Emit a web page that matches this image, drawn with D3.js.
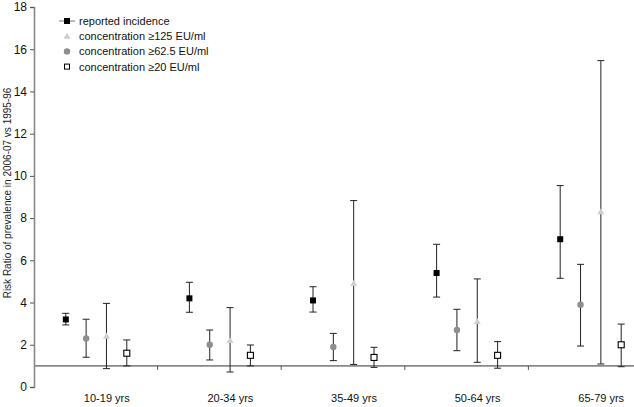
<!DOCTYPE html>
<html lang="en">
  <head>
    <meta charset="UTF-8" />
    <title>Risk ratio by age group</title>
    <script src="https://d3js.org/d3.v7.min.js"></script>
    <style>
      body {
        margin: 0;
        background: white;
      }
      svg {
        display: block;
        font-family: "Liberation Sans", Arial, sans-serif;
      }
      .axis-line {
        stroke: #888;
        stroke-width: 1.6px;
      }
      .err {
        stroke: #222;
        stroke-width: 1px;
      }
    </style>
  </head>
  <body>
    <svg id="chart" width="634" height="407"></svg>
    <script>
      // age groups on the x axis
      const categories = ["10-19 yrs", "20-34 yrs", "35-49 yrs", "50-64 yrs", "65-79 yrs"];
      const yTicks = [0, 2, 4, 6, 8, 10, 12, 14, 16, 18];

      // risk ratios, with lower / upper limits
      const reported = [3.2, 4.2, 4.1, 5.4, 7.0];
      const reportedLo = [2.94, 3.54, 3.55, 4.26, 5.15];
      const reportedHi = [3.49, 4.96, 4.75, 6.76, 9.54];

      const conc62 = [2.3, 2.0, 1.9, 2.7, 3.9];
      const conc62Lo = [1.41, 1.28, 1.25, 1.72, 1.94];
      const conc62Hi = [3.21, 2.7, 2.54, 3.68, 5.81];

      const conc125 = [2.4, 2.2, 4.9, 3.1, 8.3];
      const conc125Lo = [0.87, 0.71, 1.07, 1.17, 1.09];
      const conc125Hi = [3.96, 3.76, 8.83, 5.12, 15.46];

      const conc20 = [1.6, 1.5, 1.4, 1.5, 2.0];
      const conc20Lo = [1.0, 1.0, 0.93, 0.89, 0.96];
      const conc20Hi = [2.23, 1.99, 1.88, 2.15, 2.98];

      const series = [
        { key: "reported", label: "reported incidence", shape: "square", fill: "#000", values: reported, lo: reportedLo, hi: reportedHi },
        { key: "c125", label: "concentration \u2265125 EU/ml", shape: "triangle", fill: "#cfcfcf", values: conc125, lo: conc125Lo, hi: conc125Hi },
        { key: "c62", label: "concentration \u226562.5 EU/ml", shape: "circle", fill: "#8e8e8e", values: conc62, lo: conc62Lo, hi: conc62Hi },
        { key: "c20", label: "concentration \u226520 EU/ml", shape: "open", fill: "#fff", values: conc20, lo: conc20Lo, hi: conc20Hi },
      ];
      // order of the points inside each age group
      const plotOrder = ["reported", "c62", "c125", "c20"];

      const svg = d3.select("#chart");

      const x = d3.scaleBand().domain(categories).range([34, 652]);
      const xInner = d3.scalePoint().domain(plotOrder).range([-30, 31]);
      const y = d3.scaleLinear().domain([0, 18]).range([387, 7]);

      // y axis
      const yAxis = svg
        .append("g")
        .attr("transform", "translate(34,0)")
        .call(d3.axisLeft(y).tickValues(yTicks).tickSize(4).tickPadding(3));
      yAxis.select(".domain").attr("stroke", "#888").attr("stroke-width", 1.6);
      yAxis.selectAll(".tick line").attr("stroke", "#555");
      yAxis.selectAll("text").attr("font-size", 12).attr("fill", "#111").attr("font-family", "Liberation Sans, Arial, sans-serif");

      // horizontal reference line at ratio 1
      svg.append("line").attr("class", "axis-line").attr("x1", 34).attr("x2", 634).attr("y1", y(1)).attr("y2", y(1));

      // category ticks on the reference line
      svg
        .selectAll(".cat-tick")
        .data(categories.slice(1))
        .enter()
        .append("line")
        .attr("x1", (d) => x(d))
        .attr("x2", (d) => x(d))
        .attr("y1", y(1))
        .attr("y2", y(1) + 4)
        .attr("stroke", "#555");

      // category labels
      svg
        .selectAll(".cat-label")
        .data(categories)
        .enter()
        .append("text")
        .attr("x", (d) => x(d) + x.bandwidth() / 2 + 11)
        .attr("y", 402)
        .attr("text-anchor", "middle")
        .attr("font-size", 11)
        .attr("fill", "#111")
        .text((d) => d);

      // y axis title
      svg
        .append("text")
        .attr("transform", `translate(11,${(y(0) + y(18)) / 2 - 4}) rotate(-90)`)
        .attr("text-anchor", "middle")
        .attr("font-size", 10)
        .attr("fill", "#222")
        .text("Risk Ratio of prevalence in 2006-07 vs 1995-96");

      function drawMarker(g, shape, fill, cx, cy) {
        if (shape === "square" || shape === "open") {
          g.append("rect")
            .attr("x", cx - 3)
            .attr("y", cy - 3)
            .attr("width", 6)
            .attr("height", 6)
            .attr("fill", fill)
            .attr("stroke", "#000")
            .attr("stroke-width", shape === "open" ? 1.1 : 0);
        } else if (shape === "circle") {
          g.append("circle").attr("cx", cx).attr("cy", cy).attr("r", 3.2).attr("fill", fill);
        } else {
          g.append("path")
            .attr("d", `M${cx},${cy - 3.5}L${cx + 3.5},${cy + 2.5}L${cx - 3.5},${cy + 2.5}Z`)
            .attr("fill", fill);
        }
      }

      // error bars + markers
      series.forEach((s) => {
        const g = svg.append("g").attr("class", "series-" + s.key);
        categories.forEach((c, i) => {
          const cx = x(c) + x.bandwidth() / 2 + xInner(s.key);
          const top = y(s.hi[i]);
          const bot = y(s.lo[i]);
          g.append("line").attr("class", "err").attr("x1", cx).attr("x2", cx).attr("y1", top).attr("y2", bot);
          g.append("line").attr("class", "err").attr("x1", cx - 3.5).attr("x2", cx + 3.5).attr("y1", top).attr("y2", top);
          g.append("line").attr("class", "err").attr("x1", cx - 3.5).attr("x2", cx + 3.5).attr("y1", bot).attr("y2", bot);
          drawMarker(g, s.shape, s.fill, cx, y(s.values[i]));
        });
      });

      // legend
      const legend = svg.append("g").attr("transform", "translate(67,21)");
      series.forEach((s, i) => {
        const row = legend.append("g").attr("transform", `translate(0,${i * 15.2})`);
        if (s.key === "reported") {
          row.append("line").attr("x1", -8).attr("x2", 8).attr("y1", 0).attr("y2", 0).attr("stroke", "#777");
        }
        const m = row.append("g");
        if (s.shape === "open") {
          m.append("rect").attr("x", -2.5).attr("y", -2.5).attr("width", 5).attr("height", 5).attr("fill", "#fff").attr("stroke", "#000");
        } else if (s.shape === "square") {
          m.append("rect").attr("x", -3).attr("y", -3).attr("width", 6).attr("height", 6).attr("fill", "#000");
        } else {
          drawMarker(m, s.shape, s.fill, 0, 0);
        }
        row
          .append("text")
          .attr("x", 12)
          .attr("y", 4)
          .attr("font-size", 11)
          .attr("fill", "#111")
          .text(s.label);
      });
    </script>
  </body>
</html>
